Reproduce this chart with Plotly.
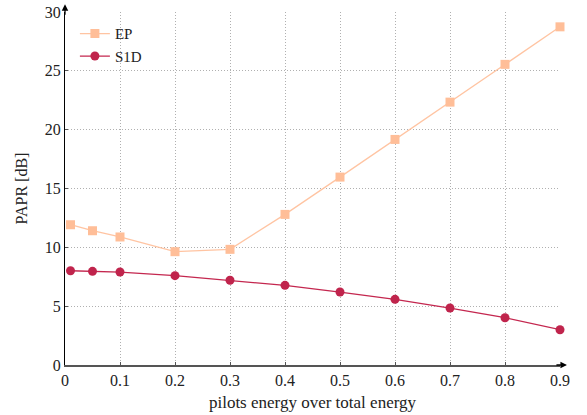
import plotly.graph_objects as go

x_vals = [0.01, 0.05, 0.1, 0.2, 0.3, 0.4, 0.5, 0.6, 0.7, 0.8, 0.9]
ep_vals = [11.92, 11.41, 10.88, 9.63, 9.83, 12.8, 15.97, 19.17, 22.34, 25.55, 28.74]
s1d_vals = [8.01, 7.96, 7.9, 7.59, 7.2, 6.77, 6.2, 5.58, 4.84, 4.02, 3.0]
x_ticks = [0, 0.1, 0.2, 0.3, 0.4, 0.5, 0.6, 0.7, 0.8, 0.9]
x_tick_labels = ["0", "0.1", "0.2", "0.3", "0.4", "0.5", "0.6", "0.7", "0.8", "0.9"]
y_ticks = [0, 5, 10, 15, 20, 25, 30]

FONT = "Liberation Serif"

fig = go.Figure()
fig.add_trace(go.Scatter(
    x=x_vals, y=ep_vals, name="EP", mode="lines+markers",
    line=dict(color="rgba(255,190,152,0.9)", width=1.3),
    marker=dict(symbol="square", size=9, color="#FFBE98"),
    cliponaxis=False,
))
fig.add_trace(go.Scatter(
    x=x_vals, y=s1d_vals, name="S1D", mode="lines+markers",
    line=dict(color="#C4274F", width=1.3),
    marker=dict(symbol="circle", size=9, color="#C0244C"),
    cliponaxis=False,
))

axis_common = dict(
    showgrid=True, gridcolor="#b0b0b0", griddash="1px,2px", gridwidth=1,
    zeroline=False, ticks="inside", ticklen=3, tickcolor="#555",
    tickfont=dict(family=FONT, size=16, color="#222"),
    mirror=False, automargin=False,
)

fig.update_layout(
    width=587, height=415,
    margin=dict(l=65, r=27, t=12, b=50),
    plot_bgcolor="white", paper_bgcolor="white",
    font=dict(family=FONT, color="#222"),
    showlegend=True,
    legend=dict(
        x=0.02, y=0.985, xanchor="left", yanchor="top",
        bgcolor="rgba(255,255,255,0)", borderwidth=0,
        font=dict(family=FONT, size=15, color="#222"),
        itemwidth=30, tracegroupgap=0,
    ),
    xaxis=dict(
        range=[0, 0.9], tickvals=x_ticks, ticktext=x_tick_labels,
        showline=True, linecolor="#555", linewidth=1.6,
        title=dict(text="pilots energy over total energy",
                   font=dict(family=FONT, size=17, color="#222"), standoff=8),
        **axis_common,
    ),
    yaxis=dict(
        range=[0, 30], tickvals=y_ticks,
        showline=True, linecolor="black", linewidth=1.2,
        title=dict(text="PAPR [dB]",
                   font=dict(family=FONT, size=16, color="#222"), standoff=13),
        **axis_common,
    ),
)

fig.add_annotation(x=1.014, y=0, xref="paper", yref="paper", text="",
                   showarrow=True, arrowhead=2, arrowsize=1, arrowwidth=1.3,
                   arrowcolor="black", ax=-12, ay=0)
fig.add_annotation(x=0, y=1.022, xref="paper", yref="paper", text="",
                   showarrow=True, arrowhead=2, arrowsize=1, arrowwidth=1.3,
                   arrowcolor="black", ax=0, ay=12)

fig.write_html("out.html")
